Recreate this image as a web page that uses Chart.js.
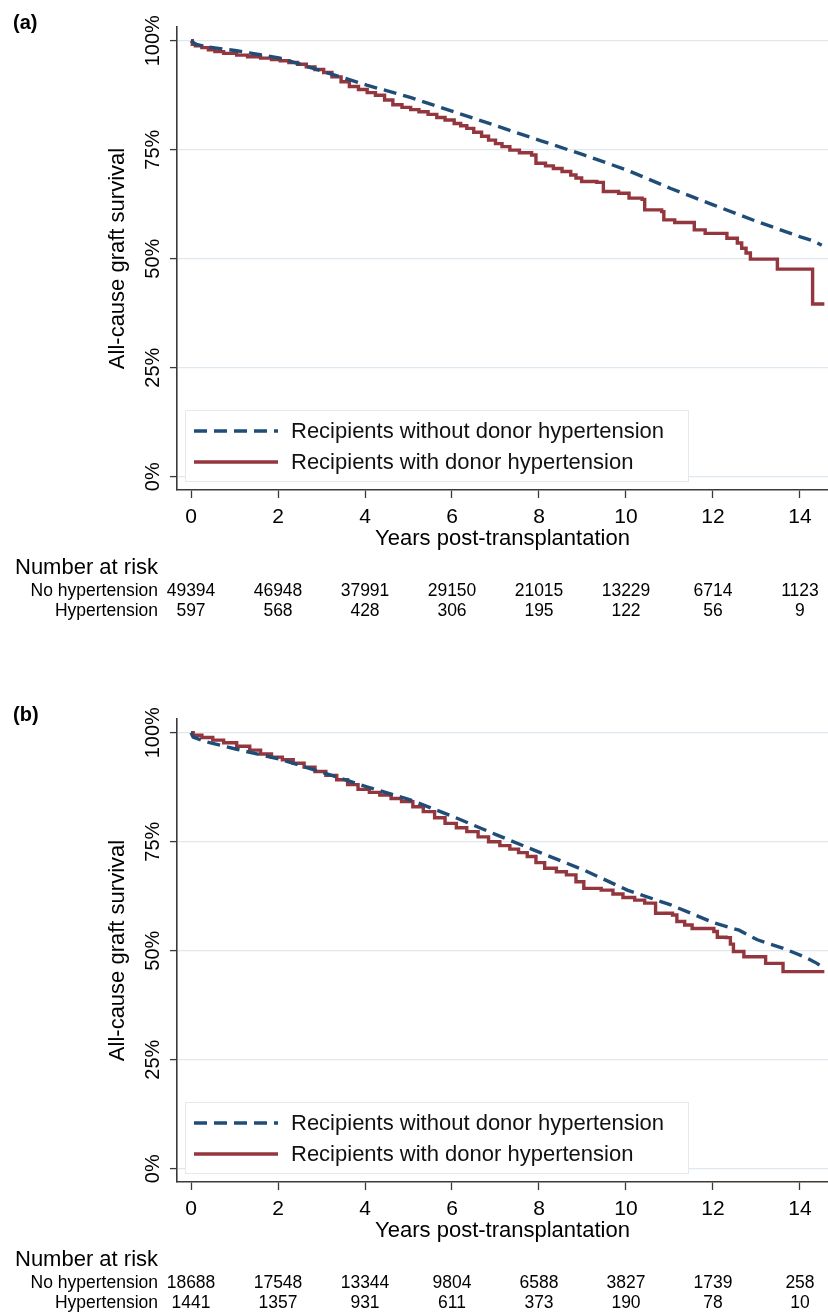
<!DOCTYPE html>
<html>
<head>
<meta charset="utf-8">
<title>Graft survival by donor hypertension</title>
<script src="https://cdn.jsdelivr.net/npm/chart.js@4.4.1/dist/chart.umd.min.js"></script>
<style>
  html, body { margin: 0; padding: 0; background: #fff; overflow: hidden; }
  .panel { position: absolute; left: 0; width: 828px; }
  #panelA { top: 0; height: 692px; }
  #panelB { top: 692px; height: 621px; }
</style>
</head>
<body>
<div class="panel" id="panelA"><canvas id="chartA"></canvas></div>
<div class="panel" id="panelB"><canvas id="chartB"></canvas></div>
<script>
// Axis ticks and labels
const xTicks = [0, 2, 4, 6, 8, 10, 12, 14];
const yTicks = [0, 25, 50, 75, 100];
const seriesLabels = ['Recipients without donor hypertension', 'Recipients with donor hypertension'];
const riskRowLabels = ['No hypertension', 'Hypertension'];
const riskTimes = [0, 2, 4, 6, 8, 10, 12, 14];

// Panel (a) curves (years, % surviving)
const aTimeNoHtn = [0, 0.1, 0.35, 1.05, 2.05, 3.05, 4.04, 5.04, 6.04, 7.04, 8.03, 9.03, 10.03, 11.03, 12.02, 13.02, 14.01, 14.3, 14.5];
const aSurvNoHtn = [100, 99.2, 98.6, 97.7, 96.0, 92.9, 89.8, 87.0, 83.7, 80.4, 77.1, 73.8, 70.3, 66.1, 62.3, 58.5, 55.0, 54.1, 53.1];
const aTimeHtn = [0, 0.03, 0.1, 0.25, 0.4, 0.55, 0.75, 1.05, 1.3, 1.6, 1.85, 2.05, 2.25, 2.45, 2.65, 2.85, 3.05, 3.24, 3.45, 3.64,
  3.85, 4.05, 4.24, 4.45, 4.64, 4.85, 5.05, 5.24, 5.45, 5.65, 5.84, 6.05, 6.2, 6.34, 6.5, 6.68, 6.84, 7.0, 7.15, 7.33,
  7.55, 7.83, 7.93, 8.15, 8.33, 8.53, 8.73, 8.85, 8.98, 9.33, 9.48, 9.83, 10.07, 10.37, 10.43, 10.82, 10.87, 11.12, 11.57, 11.82,
  12.32, 12.56, 12.66, 12.76, 12.86, 13.48, 14.29, 14.56];
const aSurvHtn = [100, 99.2, 98.8, 98.4, 97.9, 97.5, 97.1, 96.7, 96.3, 96.0, 95.7, 95.4, 95.0, 94.6, 94.0, 93.4, 92.7, 91.7, 90.6, 89.5,
  88.8, 88.1, 87.5, 86.4, 85.3, 84.7, 84.2, 83.7, 83.1, 82.4, 81.8, 81.0, 80.5, 79.9, 79.0, 78.1, 77.2, 76.4, 75.7, 74.9,
  74.3, 73.8, 71.9, 71.3, 70.7, 70.0, 69.2, 68.5, 67.7, 67.5, 65.4, 65.0, 63.9, 63.6, 61.2, 60.8, 58.9, 58.3, 56.6, 55.8,
  54.7, 53.6, 52.4, 51.3, 49.9, 47.6, 39.6, 39.6];
const aRiskNoHtn = [49394, 46948, 37991, 29150, 21015, 13229, 6714, 1123];
const aRiskHtn = [597, 568, 428, 306, 195, 122, 56, 9];

// Panel (b) curves
const bTimeNoHtn = [0, 0.05, 0.35, 1.05, 2.05, 3.05, 4.04, 5.04, 6.04, 7.04, 8.03, 9.03, 10.03, 11.03, 12.02, 12.6, 13.02, 13.6, 14.1, 14.39, 14.5];
const bSurvNoHtn = [100, 99.0, 97.9, 96.2, 93.9, 90.8, 87.6, 84.6, 80.7, 76.5, 72.5, 68.5, 63.9, 60.5, 56.4, 54.7, 52.5, 50.6, 48.6, 47.1, 46.3];
const bTimeHtn = [0, 0.05, 0.25, 0.5, 0.75, 1.05, 1.35, 1.6, 1.85, 2.1, 2.35, 2.6, 2.85, 3.1, 3.35, 3.6, 3.84, 4.1, 4.34, 4.6,
  4.84, 5.1, 5.34, 5.6, 5.84, 6.1, 6.34, 6.6, 6.84, 7.1, 7.33, 7.53, 7.73, 7.93, 8.13, 8.4, 8.63, 8.85, 9.03, 9.43,
  9.7, 9.93, 10.2, 10.43, 10.68, 11.07, 11.17, 11.35, 11.52, 12.02, 12.1, 12.3, 12.4, 12.47, 12.71, 13.21, 13.61, 14.56];
const bSurvHtn = [100, 99.4, 98.9, 98.3, 97.7, 96.9, 96.0, 95.1, 94.4, 93.8, 93.0, 92.1, 91.1, 90.2, 89.2, 88.1, 87.0, 86.3, 85.7, 84.9,
  84.2, 83.0, 81.9, 80.5, 79.2, 78.2, 77.3, 76.1, 75.0, 74.1, 73.3, 72.5, 71.6, 70.2, 68.9, 68.1, 67.4, 65.8, 64.3, 63.9,
  63.0, 62.2, 61.6, 60.9, 58.6, 58.2, 56.7, 55.9, 55.1, 54.4, 53.1, 53.0, 51.5, 49.8, 48.6, 47.1, 45.2, 45.2];
const bRiskNoHtn = [18688, 17548, 13344, 9804, 6588, 3827, 1739, 258];
const bRiskHtn = [1441, 1357, 931, 611, 373, 190, 78, 10];

const BLUE = '#1f4d78';
const RED = '#93363d';
const AXIS = '#3a3a3a';
const GRID = '#dfe8ee';
const FONT = '"Liberation Sans", Arial, sans-serif';

Chart.defaults.font.family = FONT;
Chart.defaults.color = '#000';

function toPoints(times, values) {
    return times.map((t, i) => ({ x: t, y: values[i] }));
}

// letter, in-plot legend and number-at-risk table
function panelDecor(letter, riskNo, riskHtn) {
    return {
        id: 'panelDecor',
        afterDraw(chart) {
            const c = chart.ctx;
            const xs = chart.scales.x;
            c.save();
            c.fillStyle = '#000';
            c.textBaseline = 'middle';
            c.textAlign = 'left';
            c.font = 'bold 20px ' + FONT;
            c.fillText(letter, 13, 23);

            // legend box inside the plot
            c.fillStyle = '#fff';
            c.fillRect(185, 410, 503, 71);
            c.strokeStyle = '#e2eaef';
            c.lineWidth = 1;
            c.strokeRect(185.5, 410.5, 503, 71);
            const rowsY = [431, 462];
            chart.data.datasets.forEach((ds, i) => {
                c.strokeStyle = ds.borderColor;
                c.lineWidth = ds.borderWidth;
                c.setLineDash(ds.borderDash || []);
                c.beginPath();
                c.moveTo(194, rowsY[i]);
                c.lineTo(278, rowsY[i]);
                c.stroke();
                c.setLineDash([]);
                c.fillStyle = '#111';
                c.font = '22px ' + FONT;
                c.fillText(ds.label, 291, rowsY[i] + 1);
            });

            // number at risk
            c.fillStyle = '#000';
            c.font = '22px ' + FONT;
            c.textAlign = 'left';
            c.fillText('Number at risk', 15, 568);
            c.font = '17.5px ' + FONT;
            c.textAlign = 'right';
            c.fillText(riskRowLabels[0], 158, 591);
            c.fillText(riskRowLabels[1], 158, 611);
            c.textAlign = 'center';
            riskTimes.forEach((t, i) => {
                const px = xs.getPixelForValue(t);
                c.fillText(String(riskNo[i]), px, 591);
                c.fillText(String(riskHtn[i]), px, 611);
            });
            c.restore();
        }
    };
}

function buildPanel(canvasId, letter, noTime, noSurv, htnTime, htnSurv, riskNo, riskHtn, panelHeight) {
    const ctx = document.getElementById(canvasId).getContext('2d');
    return new Chart(ctx, {
        type: 'line',
        data: {
            datasets: [
                { label: seriesLabels[0], data: toPoints(noTime, noSurv), borderColor: BLUE, borderWidth: 3.4,
                  borderDash: [13, 7], pointRadius: 0, tension: 0, fill: false },
                { label: seriesLabels[1], data: toPoints(htnTime, htnSurv), borderColor: RED, borderWidth: 3.4,
                  stepped: true, pointRadius: 0, fill: false }
            ]
        },
        options: {
            responsive: true, maintainAspectRatio: false, animation: false,
            layout: { padding: { top: 27, right: 0, left: 0, bottom: panelHeight - 490 - 62 } },
            scales: {
                x: {
                    type: 'linear', min: -0.322, max: 14.644,
                    afterBuildTicks: s => { s.ticks = xTicks.map(v => ({ value: v })); },
                    afterFit: s => { s.height = 62; },
                    grid: { drawOnChartArea: false, drawTicks: true, tickLength: 8, tickColor: AXIS, tickWidth: 1.3 },
                    border: { color: AXIS, width: 1.6 },
                    ticks: { font: { size: 21 }, color: '#000', padding: 7, maxRotation: 0, minRotation: 0, callback: v => String(v) },
                    title: { display: true, text: 'Years post-transplantation', font: { size: 22 }, color: '#000', padding: { top: 0, bottom: 0 } }
                },
                y: {
                    type: 'linear', min: -3.05, max: 103.14,
                    afterBuildTicks: s => { s.ticks = yTicks.map(v => ({ value: v })); },
                    afterFit: s => { s.width = 177; },
                    grid: { color: GRID, lineWidth: 1.2, tickLength: 7, tickColor: AXIS, tickWidth: 1.3 },
                    border: { color: AXIS, width: 1.6 },
                    ticks: { font: { size: 20 }, color: '#000', minRotation: 90, maxRotation: 90, crossAlign: 'center',
                             padding: -8.6, callback: v => v + '%' },
                    title: { display: true, text: 'All-cause graft survival', font: { size: 22 }, color: '#000', padding: { top: 105, bottom: 0 } }
                }
            },
            plugins: { legend: { display: false }, tooltip: { enabled: false } }
        },
        plugins: [panelDecor(letter, riskNo, riskHtn)]
    });
}

window.addEventListener('DOMContentLoaded', () => {
    buildPanel('chartA', '(a)', aTimeNoHtn, aSurvNoHtn, aTimeHtn, aSurvHtn, aRiskNoHtn, aRiskHtn, 692);
    buildPanel('chartB', '(b)', bTimeNoHtn, bSurvNoHtn, bTimeHtn, bSurvHtn, bRiskNoHtn, bRiskHtn, 621);
});
</script>
</body>
</html>
